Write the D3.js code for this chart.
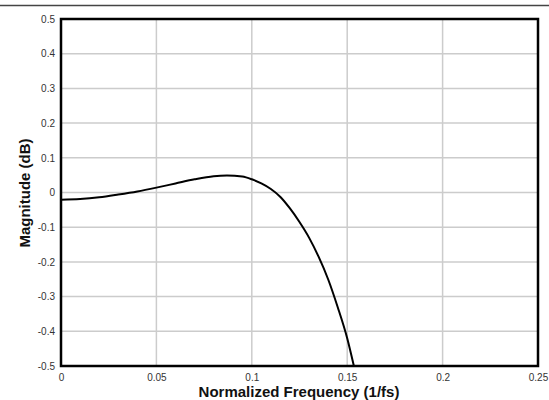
<!DOCTYPE html>
<html><head><meta charset="utf-8">
<script src="https://cdn.jsdelivr.net/npm/d3@7"></script>
<style>body{margin:0;background:#fff}svg{display:block}</style>
</head><body>
<svg id="c" width="549" height="400"></svg>
<script>
const freq = [0, 0.01, 0.02, 0.03, 0.04, 0.05, 0.06, 0.07, 0.08, 0.087, 0.095, 0.1, 0.105, 0.11, 0.115, 0.12, 0.125, 0.13, 0.135, 0.14, 0.145, 0.15, 0.1535];
const magnitude = [-0.021, -0.019, -0.014, -0.006, 0.003, 0.014, 0.026, 0.038, 0.047, 0.049, 0.046, 0.038, 0.026, 0.010, -0.013, -0.046, -0.085, -0.13, -0.185, -0.25, -0.33, -0.42, -0.5];
const xTicks = [0, 0.05, 0.1, 0.15, 0.2, 0.25];
const xTickLabels = ["0", "0.05", "0.1", "0.15", "0.2", "0.25"];
const yTicks = [-0.5, -0.4, -0.3, -0.2, -0.1, 0, 0.1, 0.2, 0.3, 0.4, 0.5];
const yTickLabels = ["-0.5", "-0.4", "-0.3", "-0.2", "-0.1", "0", "0.1", "0.2", "0.3", "0.4", "0.5"];
const xTitle = "Normalized Frequency (1/fs)";
const yTitle = "Magnitude (dB)";

const svg = d3.select("#c");
const L = 61, R = 538, T = 19, B = 366;
const x = d3.scaleLinear().domain([0, 0.25]).range([L, R]);
const y = d3.scaleLinear().domain([-0.5, 0.5]).range([B, T]);
const font = "Liberation Sans, Arial, sans-serif";

svg.append("line").attr("x1", 0).attr("x2", 549).attr("y1", 5.5).attr("y2", 5.5)
  .attr("stroke", "#444").attr("stroke-width", 1.5);

const g = svg.append("g");
g.selectAll(".gx").data(xTicks).join("line")
  .attr("x1", d => x(d)).attr("x2", d => x(d)).attr("y1", T).attr("y2", B)
  .attr("stroke", "#cccccc").attr("stroke-width", 1.5);
g.selectAll(".gy").data(yTicks).join("line")
  .attr("x1", L).attr("x2", R).attr("y1", d => y(d)).attr("y2", d => y(d))
  .attr("stroke", "#cccccc").attr("stroke-width", 1.5);

const xAxis = d3.axisBottom(x).tickValues(xTicks).tickFormat((d, i) => xTickLabels[i]).tickSize(0).tickPadding(8);
const yAxis = d3.axisLeft(y).tickValues(yTicks).tickFormat((d, i) => yTickLabels[i]).tickSize(0).tickPadding(6);
const gx = svg.append("g").attr("transform", `translate(0,${B})`).call(xAxis);
const gy = svg.append("g").attr("transform", `translate(${L},0)`).call(yAxis);
[gx, gy].forEach(a => {
  a.select(".domain").remove();
  a.selectAll("text").attr("font-family", font).attr("font-size", 10).attr("fill", "#333");
});

const line = d3.line().x((d, i) => x(freq[i])).y(d => y(d)).curve(d3.curveMonotoneX);
svg.append("path").datum(magnitude).attr("d", line)
  .attr("fill", "none").attr("stroke", "#000").attr("stroke-width", 2);

svg.append("rect").attr("x", L).attr("y", T).attr("width", R - L).attr("height", B - T)
  .attr("fill", "none").attr("stroke", "#000").attr("stroke-width", 2.5);

svg.append("text").attr("x", 299).attr("y", 397).attr("text-anchor", "middle")
  .attr("font-family", font).attr("font-weight", "bold").attr("font-size", 15).attr("fill", "#111").text(xTitle);
svg.append("text").attr("transform", `translate(30,193) rotate(-90)`).attr("text-anchor", "middle")
  .attr("font-family", font).attr("font-weight", "bold").attr("font-size", 15).attr("fill", "#111").text(yTitle);
</script>
</body></html>
